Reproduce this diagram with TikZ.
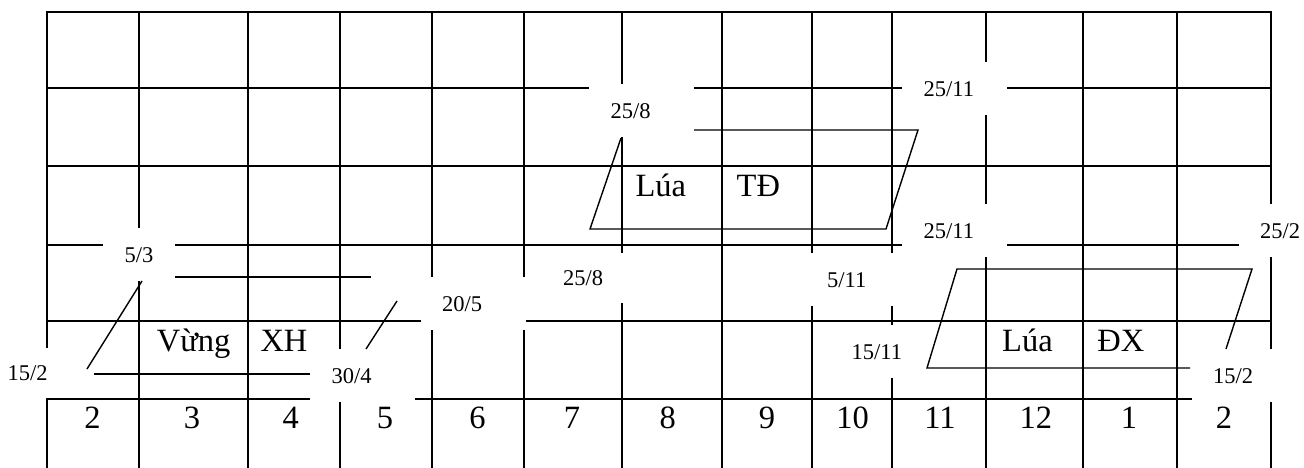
\documentclass[tikz,border=0pt]{standalone}
\usepackage{fontspec}
\setmainfont{Liberation Serif}
\tikzset{
  grid line/.style={line width=1.7pt, line cap=rect},
  crop line/.style={line width=1.4pt},
  datebox/.style={fill=white, anchor=north west, inner xsep=21.5pt, inner ysep=0pt,
    minimum height=53pt, text width=62pt, align=left,
    font=\fontsize{22.5}{26}\selectfont},
  big/.style={anchor=base, inner sep=0pt, font=\fontsize{32.5}{36}\selectfont}
}
\begin{document}
\begin{tikzpicture}[x=1pt,y=-1pt]
    \useasboundingbox (0,0) rectangle (1304,468);

    % Grid
    \foreach \x in {47,139,248,340,432,524,622,722,812,892,986,1083,1177,1271}
        \draw[grid line] (\x,12) -- (\x,468);
    \foreach \y in {12,166,245,321,399}
        \draw[grid line] (47,\y) -- (1271,\y);
    \draw[grid line, line width=2.4pt] (47,88) -- (1271,88);

    % Dates (white boxes cut the grid lines)
    \node[datebox] (d258a) at (589,84) {25/8};
    \node[datebox] (d2511a) at (902,62) {25/11};
    \node[datebox, text width=29pt] (d53) at (103,228) {5/3};
    \node[datebox, text width=60pt, minimum height=50pt] (d152a) at (-14,348) {15/2};
    \node[datebox] (d304) at (310,349) {30/4};
    \node[datebox] (d205) at (420.5,277) {20/5};
    \node[datebox, minimum height=50pt] (d258b) at (541.5,253) {25/8};
    \node[datebox] (d511) at (805.5,253) {5/11};
    \node[datebox] (d1511) at (830,325) {15/11};
    \node[datebox] (d2511b) at (902,204) {25/11};
    \node[datebox] (d252) at (1238.5,204) {25/2};
    \node[datebox] (d152b) at (1191.5,349) {15/2};

    % Vừng XH
    \draw[crop line] (175,277) -- (371,277);
    \draw[crop line] (142,281) -- (87,369);
    \draw[crop line] (94,374) -- (310,374);
    \draw[crop line] (397,301) -- (366,349);
    % Lúa TĐ
    \draw[crop line] (694,130) -- (918,130) -- (886,229) -- (590,229) -- (621,138);
    % Lúa ĐX
    \draw[crop line] (1190,368) -- (927,368) -- (957,269) -- (1252,269) -- (1226,349);

    % Crop names
    \node[big] (vung) at (193.7,351.7) {Vừng};
    \node[big] (xh) at (284,351.7) {XH};
    \node[big] (luatd) at (660.8,196.7) {Lúa};
    \node[big] (td) at (758.3,196.7) {TĐ};
    \node[big] (luadx) at (1027.5,351.7) {Lúa};
    \node[big] (dx) at (1120.8,351.7) {ĐX};

    % Months
    \foreach \x/\m [count=\i] in {92.5/2,192/3,290.8/4,385/5,477.5/6,572/7,667.8/8,767/9,852.5/10,940/11,1035.8/12,1129/1,1224/2}
        \node[big] (m\i) at (\x,428.3) {\m};
\end{tikzpicture}
\end{document}
